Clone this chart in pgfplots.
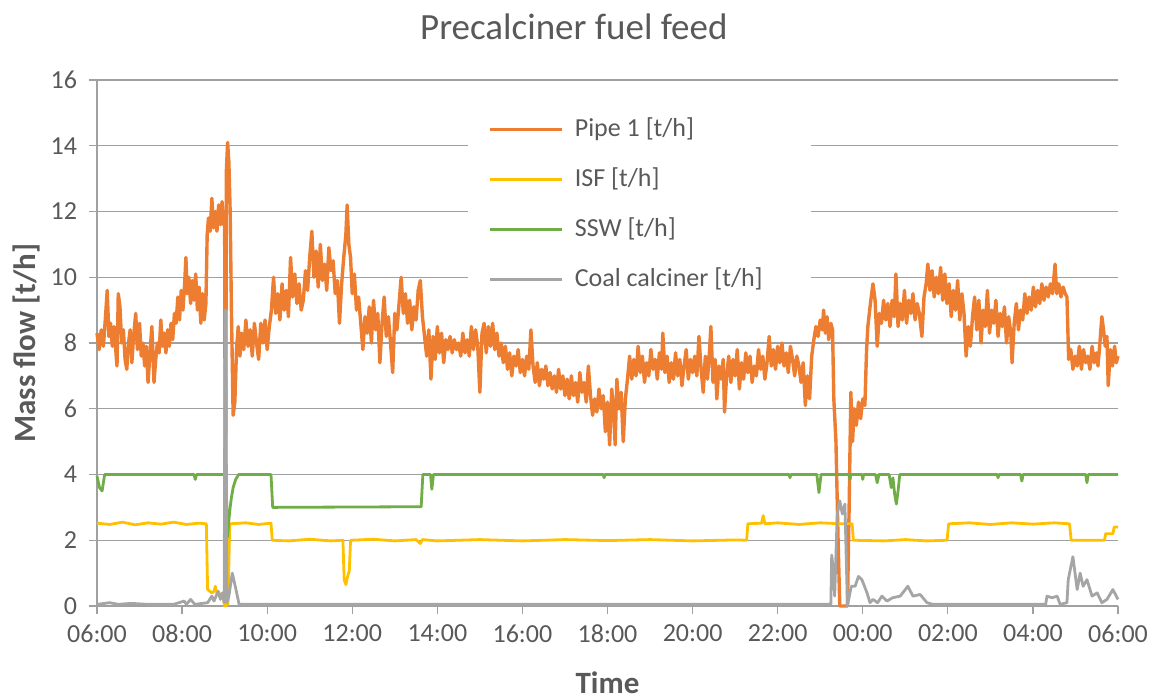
\documentclass[border=0pt]{standalone}
\usepackage{fontspec}
\setmainfont{Carlito}
\usepackage{pgfplots}
\pgfplotsset{compat=1.18}
\definecolor{cOrange}{HTML}{ED7D31}
\definecolor{cYellow}{HTML}{FFC000}
\definecolor{cGreen}{HTML}{70AD47}
\definecolor{cGrey}{HTML}{A5A5A5}
\definecolor{cText}{HTML}{595959}
\definecolor{cGrid}{HTML}{A0A0A0}
\begin{document}
\begin{tikzpicture}
\path[use as bounding box] (-48.5pt,-47pt) rectangle (532pt,303pt);
\begin{axis}[
  at={(0,0)}, anchor=south west,
  width=510.5pt, height=263pt, scale only axis,
  xmin=0, xmax=24, ymin=0, ymax=16,
  axis lines*=left,
  xtick={0,2,...,24},
  xticklabels={06:00,08:00,10:00,12:00,14:00,16:00,18:00,20:00,22:00,00:00,02:00,04:00,06:00},
  ytick={0,2,...,16},
  ymajorgrids,
  grid style={cGrid, line width=0.6pt},
  axis line style={cGrid, line width=0.6pt},
  tick style={cGrid, line width=0.6pt},
  major tick length=4pt,
  tick align=outside,
  tick label style={font=\fontsize{13}{15}\selectfont, text=cText},
  xticklabel style={yshift=-2pt},
  yticklabel style={xshift=-2.5pt},
  /pgf/number format/assume math mode=true,
  xlabel={Time}, ylabel={Mass flow [t/h]},
  label style={font=\fontsize{15.5}{18}\selectfont\bfseries, text=cText},
  xlabel style={at={(axis description cs:0.5,-0.145)}, anchor=center},
  ylabel style={at={(axis description cs:-0.0686,0.5)}, anchor=center},
  title={Precalciner fuel feed},
  title style={at={(axis description cs:0.467,1.078)}, anchor=center, font=\fontsize{18.5}{22}\selectfont, text=cText},
  legend style={at={(axis description cs:0.3634,0.763)}, anchor=west, draw=none, fill=white,
    font=\fontsize{13}{15}\selectfont, text=cText, row sep=12pt, inner xsep=10pt, inner ysep=8pt,
    nodes={inner sep=0pt, text height=10pt, text depth=3pt}},
  legend cell align=left,
  legend image code/.code={\draw[#1] (0pt,0pt) -- (36pt,0pt);},
  clip=false,
]
\addplot[cOrange, line width=1.7pt, line join=round] coordinates {
(0.00,8.3)(0.05,7.8)(0.10,8.4)(0.15,7.9)(0.20,8.8)(0.24,9.6)(0.28,8.2)(0.32,8.6)(0.36,7.9)(0.40,8.5)(0.44,7.8)(0.47,7.3)(0.50,9.5)(0.54,9.1)(0.58,8.0)(0.62,8.4)(0.66,7.5)(0.70,7.2)(0.74,8.0)(0.78,8.4)(0.82,7.4)(0.86,8.2)(0.91,8.9)(0.95,7.8)(1.00,8.6)(1.04,7.6)(1.08,8.0)(1.12,7.3)(1.16,7.9)(1.20,6.8)(1.24,7.6)(1.29,8.5)(1.34,6.8)(1.38,7.5)(1.42,8.0)(1.46,7.7)(1.50,8.7)(1.54,7.9)(1.58,8.3)(1.62,7.7)(1.66,8.4)(1.70,7.9)(1.74,8.6)(1.78,8.1)(1.82,8.9)(1.86,8.6)(1.90,9.4)(1.94,8.7)(1.98,9.6)(2.02,9.0)(2.06,9.8)(2.09,10.6)(2.12,9.5)(2.16,10.0)(2.20,9.2)(2.24,9.9)(2.28,9.3)(2.32,10.1)(2.36,9.0)(2.40,9.7)(2.44,8.6)(2.48,9.5)(2.52,8.7)(2.56,9.2)(2.59,11.3)(2.62,11.8)(2.66,11.4)(2.70,12.4)(2.74,11.5)(2.78,12.0)(2.82,11.4)(2.86,12.2)(2.90,11.6)(2.94,12.3)(2.97,11.6)(3.00,12.0)(3.02,0.3)(3.04,13.2)(3.07,14.1)(3.10,13.5)(3.13,12.0)(3.16,9.0)(3.20,5.8)(3.24,6.2)(3.28,7.8)(3.32,8.5)(3.36,7.6)(3.40,8.3)(3.45,7.8)(3.50,8.7)(3.55,7.9)(3.60,8.4)(3.65,7.6)(3.70,8.6)(3.75,8.0)(3.80,7.5)(3.85,8.6)(3.90,8.0)(3.95,8.7)
(4.00,7.8)(4.05,8.5)(4.10,9.0)(4.15,10.0)(4.20,8.9)(4.25,9.5)(4.30,8.7)(4.35,9.8)(4.40,9.0)(4.45,9.6)(4.50,8.8)(4.55,10.6)(4.60,9.4)(4.65,10.1)(4.70,9.2)(4.75,9.8)(4.80,9.0)(4.85,9.3)(4.90,10.2)(4.95,9.6)(5.00,10.6)(5.05,11.4)(5.10,10.0)(5.15,10.8)(5.20,9.7)(5.25,11.0)(5.30,9.9)(5.35,10.4)(5.40,9.6)(5.45,10.9)(5.50,10.2)(5.55,10.5)(5.60,9.5)(5.65,9.9)(5.70,8.6)(5.75,9.8)(5.80,10.6)(5.85,11.3)(5.88,12.2)(5.92,11.0)(5.96,10.6)(6.00,9.5)(6.05,10.1)(6.10,9.0)(6.15,9.4)(6.20,8.6)
(6.25,7.8)(6.30,8.8)(6.35,8.3)(6.40,9.1)(6.45,8.0)(6.50,9.3)(6.55,8.4)(6.60,8.9)(6.65,7.4)(6.70,8.6)(6.75,9.4)(6.80,8.2)(6.85,8.8)(6.90,8.0)(6.95,7.1)(7.00,8.9)(7.05,8.4)(7.10,9.2)(7.15,10.0)(7.20,8.9)(7.25,9.5)(7.30,8.6)(7.35,9.3)(7.40,8.4)(7.45,9.1)(7.50,8.7)(7.55,9.6)(7.60,9.9)(7.65,8.8)(7.70,8.2)(7.75,7.6)(7.80,8.4)(7.85,6.9)(7.90,8.2)(7.95,7.5)(8.00,8.5)(8.05,7.7)(8.10,8.3)(8.15,7.4)(8.20,8.1)(8.25,7.8)(8.30,8.2)(8.35,7.7)(8.40,8.1)(8.45,7.8)(8.50,8.0)(8.55,7.6)(8.60,8.3)(8.65,7.7)(8.70,8.1)(8.75,7.6)(8.80,8.5)(8.85,7.8)(8.90,8.4)(8.95,7.9)(9.00,6.5)(9.05,8.3)(9.10,8.6)(9.15,7.7)(9.20,8.5)(9.25,7.9)(9.30,8.6)(9.35,7.8)(9.40,8.3)(9.45,7.6)(9.50,8.0)(9.55,7.4)(9.60,7.9)(9.65,7.2)(9.70,7.7)(9.75,7.0)(9.80,7.6)(9.85,7.3)(9.90,7.8)(9.95,7.1)(10.00,7.5)(10.05,7.0)(10.10,7.6)(10.15,7.2)(10.20,8.4)(10.25,7.3)(10.30,6.8)(10.35,7.4)(10.40,6.7)(10.45,7.2)(10.50,6.9)(10.55,7.3)(10.60,6.7)(10.65,7.1)(10.70,6.6)(10.75,7.0)(10.80,6.5)(10.85,7.2)(10.90,6.6)(10.95,7.0)(11.00,6.4)(11.05,6.9)(11.10,6.3)(11.15,7.0)(11.20,6.4)(11.25,6.8)(11.30,6.2)(11.35,7.1)(11.40,6.5)(11.45,6.8)(11.50,6.2)(11.55,7.3)(11.60,6.4)(11.65,5.8)(11.70,6.3)(11.75,5.9)(11.80,6.6)(11.85,6.0)(11.90,6.4)(11.95,5.3)(12.00,6.2)
(12.05,4.9)(12.10,6.6)(12.15,5.8)(12.18,4.9)(12.22,6.9)(12.27,6.0)(12.32,6.5)(12.37,5.0)(12.42,6.3)(12.47,6.9)(12.52,7.6)(12.57,6.9)(12.62,7.5)(12.67,7.0)(12.72,7.9)(12.77,7.1)(12.82,7.6)(12.87,6.8)(12.92,7.4)(12.97,7.0)(13.02,7.8)(13.07,7.2)(13.12,7.5)(13.17,6.9)(13.22,7.7)(13.27,7.2)(13.30,8.3)(13.35,7.1)(13.40,7.6)(13.45,6.8)(13.50,7.4)(13.55,6.9)(13.60,7.7)(13.65,7.0)(13.70,7.5)(13.75,6.7)(13.80,7.3)(13.85,7.8)(13.90,6.9)(13.95,7.5)(14.00,7.1)(14.05,7.6)(14.10,7.0)(14.15,8.2)(14.20,7.2)(14.25,6.5)(14.30,7.6)(14.35,6.9)(14.40,7.8)(14.43,8.5)(14.48,6.8)(14.53,7.5)(14.57,6.3)(14.62,7.3)(14.67,6.9)(14.72,7.5)(14.75,5.9)(14.80,7.0)(14.85,7.6)(14.90,6.8)(14.95,7.5)(15.00,7.0)(15.05,7.8)(15.10,6.6)(15.15,7.4)(15.20,6.9)(15.25,7.7)(15.30,7.1)(15.35,7.6)(15.40,6.8)(15.45,7.3)(15.50,7.0)(15.55,7.8)(15.60,7.2)(15.65,7.6)(15.70,6.9)(15.75,7.4)(15.80,8.2)(15.85,7.3)(15.90,7.8)(15.95,7.2)(16.00,7.9)(16.05,7.4)(16.10,8.0)(16.15,7.3)(16.20,7.7)(16.25,7.1)(16.30,7.9)(16.35,7.5)(16.40,7.0)(16.45,7.6)(16.50,7.3)(16.55,6.8)(16.60,7.4)(16.65,6.1)(16.70,7.0)(16.75,6.3)(16.80,7.6)(16.85,8.1)(16.90,8.5)(16.95,8.2)(17.00,8.7)(17.05,8.4)(17.08,9.0)(17.12,8.3)(17.16,8.8)(17.20,8.1)(17.25,8.6)(17.29,8.4)(17.32,6.3)(17.37,5.0)(17.42,2.0)(17.46,0.0)(17.64,0.0)(17.68,3.0)(17.72,6.5)(17.76,5.0)(17.80,6.0)(17.85,5.5)(17.90,6.2)(17.95,5.7)(18.00,6.3)(18.05,6.1)(18.09,7.8)
(18.12,8.5)(18.18,9.2)(18.24,9.8)(18.29,9.3)(18.34,7.9)(18.39,8.9)(18.44,8.6)(18.49,9.3)(18.54,8.7)(18.59,9.2)(18.64,8.5)(18.69,9.3)(18.74,8.8)(18.78,10.1)(18.83,8.5)(18.88,9.2)(18.93,8.7)(18.98,9.6)(19.03,8.6)(19.08,9.3)(19.13,8.9)(19.18,9.5)(19.23,8.7)(19.28,9.2)(19.33,8.9)(19.39,8.2)(19.44,9.4)(19.49,9.8)(19.53,10.4)(19.58,9.6)(19.63,10.2)(19.68,9.4)(19.73,10.0)(19.78,9.5)(19.83,10.3)(19.88,9.3)(19.93,10.1)(19.98,9.2)(20.03,9.8)(20.08,8.8)(20.13,9.6)(20.18,9.0)(20.23,9.9)(20.28,8.7)(20.33,9.5)(20.38,8.9)(20.43,7.6)(20.48,8.5)(20.53,7.9)(20.58,8.8)(20.63,9.4)(20.68,8.4)(20.73,9.3)(20.78,8.0)(20.83,9.0)(20.88,8.5)(20.93,9.6)(20.98,8.3)(21.03,9.0)(21.08,8.6)(21.13,9.3)(21.18,8.2)(21.23,8.9)(21.28,8.5)(21.33,9.1)(21.38,8.0)(21.43,8.8)(21.48,8.3)(21.51,7.4)(21.56,8.6)(21.61,9.2)(21.66,8.4)(21.71,9.0)(21.76,8.7)(21.81,9.5)(21.86,8.9)(21.91,9.4)(21.96,9.0)(22.01,9.7)(22.06,9.1)(22.11,9.6)(22.16,9.2)(22.21,9.8)(22.26,9.3)(22.31,9.7)(22.36,9.4)(22.41,9.8)(22.46,9.5)(22.52,10.4)(22.56,9.5)(22.61,9.8)(22.66,9.4)(22.71,9.7)(22.76,9.5)(22.80,9.4)(22.84,7.5)(22.89,7.8)(22.94,7.2)(22.99,7.6)(23.04,7.3)(23.09,7.9)(23.14,7.2)(23.19,7.8)(23.24,7.4)(23.29,7.6)(23.34,7.2)(23.39,7.9)(23.44,7.4)(23.49,7.7)(23.53,7.3)(23.58,8.1)(23.62,8.8)(23.66,8.4)(23.70,7.9)(23.74,8.2)(23.77,6.7)(23.82,7.8)(23.87,7.3)(23.92,7.9)(23.96,7.4)(24.00,7.6)
};
\addlegendentry{\hspace*{5.5pt}Pipe 1 [t/h]}
\addplot[cYellow, line width=1.4pt, line join=round] coordinates {
(0,2.52)(0.3,2.48)(0.6,2.55)(0.9,2.47)(1.2,2.53)(1.5,2.49)(1.8,2.55)(2.1,2.48)(2.4,2.52)(2.57,2.5)(2.60,0.5)(2.70,0.4)(2.75,0.45)(2.78,0.6)(2.82,0.38)(2.96,0.35)(3.00,0.0)(3.08,0.05)(3.12,2.5)(3.5,2.53)(3.8,2.48)(4.09,2.52)(4.12,2.0)(4.5,1.98)(5.0,2.03)(5.5,1.98)(5.78,2.0)(5.81,0.8)(5.85,0.65)(5.90,0.95)(5.93,1.05)(5.96,2.0)(6.5,2.03)(7.0,1.98)(7.5,2.02)(7.6,1.9)(7.65,2.02)(8.0,1.98)(9,2.02)(10,1.98)(11,2.02)(12,1.99)(13,2.02)(14,1.98)(15,2.01)(15.27,2.0)(15.30,2.5)(15.62,2.52)(15.66,2.75)(15.70,2.5)(16,2.53)(16.5,2.48)(17,2.53)(17.5,2.5)(17.75,2.5)(17.78,2.0)(18.5,1.98)(19,2.02)(19.5,1.98)(19.98,2.0)(20.02,2.5)(20.5,2.53)(21,2.48)(21.5,2.53)(22,2.49)(22.5,2.53)(22.86,2.5)(22.90,2.0)(23.68,2.0)(23.71,2.2)(23.88,2.2)(23.91,2.4)(24,2.4)
};
\addlegendentry{\hspace*{5.5pt}ISF [t/h]}
\addplot[cGreen, line width=1.4pt, line join=round] coordinates {
(0,3.95)(0.06,3.6)(0.12,3.5)(0.18,4.0)(2.28,4.0)(2.31,3.85)(2.34,4.0)(3.03,4.0)(3.07,2.1)(3.10,2.6)(3.13,3.0)(3.16,3.3)(3.20,3.6)(3.26,3.85)(3.33,4.0)(4.09,4.0)(4.13,3.0)(7.62,3.02)(7.66,4.0)(7.84,4.0)(7.87,3.55)(7.91,4.0)(11.90,4.0)(11.92,3.9)(11.94,4.0)(16.27,4.0)(16.29,3.9)(16.31,4.0)(16.92,4.0)(16.97,3.45)(17.02,4.0)(17.68,4.0)(17.70,3.85)(17.72,4.0)(17.98,4.0)(18.0,3.85)(18.02,4.0)(18.30,4.0)(18.34,3.75)(18.38,4.0)(18.62,4.0)(18.67,3.6)(18.71,3.9)(18.75,3.4)(18.79,3.1)(18.83,3.5)(18.87,4.0)(21.16,4.0)(21.18,3.9)(21.20,4.0)(21.71,4.0)(21.74,3.8)(21.77,4.0)(23.24,4.0)(23.27,3.75)(23.30,4.0)(24,4.0)
};
\addlegendentry{\hspace*{5.5pt}SSW [t/h]}
\addplot[cGrey, line width=1.4pt, line join=round] coordinates {
(0,0.05)(0.3,0.1)(0.5,0.05)(0.8,0.08)(1.2,0.05)(1.8,0.05)(2.05,0.15)(2.1,0.05)(2.2,0.2)(2.3,0.05)(2.6,0.1)(2.7,0.3)(2.75,0.15)(2.85,0.45)(2.9,0.2)(2.95,0.4)(2.99,0.1)(3.01,9.0)(3.03,9.0)(3.05,0.1)(3.10,0.3)(3.18,1.0)(3.25,0.6)(3.30,0.3)(3.34,0.05)(17.25,0.05)(17.27,1.55)(17.30,1.2)(17.34,0.3)(17.40,2.8)(17.46,3.2)(17.52,2.8)(17.58,3.1)(17.64,0.0)(17.73,0.6)(17.82,0.6)(17.90,0.9)(17.98,0.8)(18.1,0.4)(18.17,0.1)(18.24,0.2)(18.35,0.1)(18.45,0.3)(18.57,0.15)(18.70,0.25)(18.88,0.3)(18.97,0.45)(19.06,0.6)(19.18,0.3)(19.35,0.35)(19.51,0.1)(19.65,0.05)(22.30,0.05)(22.33,0.3)(22.45,0.25)(22.57,0.3)(22.64,0.05)(22.80,0.1)(22.83,0.8)(22.94,1.5)(23.04,0.5)(23.11,1.0)(23.18,0.6)(23.27,0.8)(23.39,0.3)(23.51,0.4)(23.62,0.1)(23.74,0.2)(23.88,0.5)(23.98,0.25)(24.0,0.2)
};
\addlegendentry{\hspace*{5.5pt}Coal calciner [t/h]\hspace*{14pt}}
\end{axis}
\end{tikzpicture}
\end{document}
